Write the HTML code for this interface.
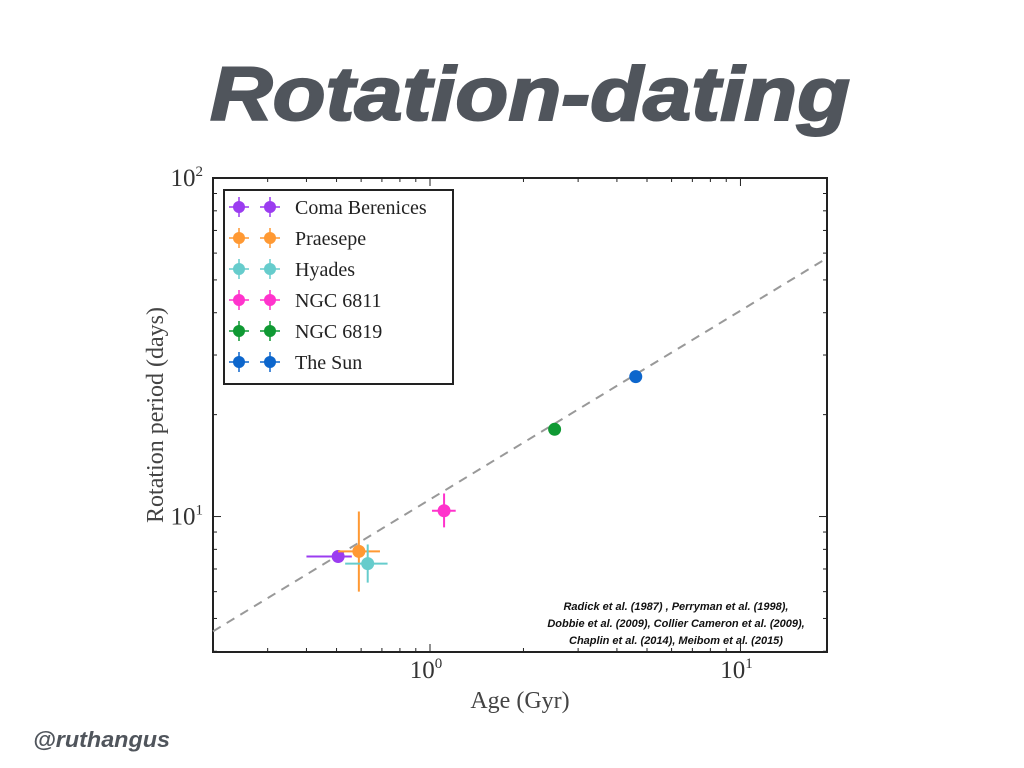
<!DOCTYPE html>
<html><head><meta charset="utf-8">
<style>
html,body{margin:0;padding:0;background:#fff;}
svg{display:block;}
</style></head>
<body>
<svg id="chart" width="1024" height="768" viewBox="0 0 1024 768" xmlns="http://www.w3.org/2000/svg">
<text x="530" y="120" text-anchor="middle" font-family="Liberation Sans, sans-serif" font-weight="bold" font-style="italic" font-size="76" fill="#50555c" stroke="#50555c" stroke-width="2" textLength="640" lengthAdjust="spacingAndGlyphs">Rotation-dating</text>
<text x="33" y="747" font-family="Liberation Sans, sans-serif" font-weight="bold" font-style="italic" font-size="22" fill="#50555c" textLength="137" lengthAdjust="spacingAndGlyphs">@ruthangus</text>
<g id="plot"></g>
</svg>
<script>
const names = ["Coma Berenices","Praesepe","Hyades","NGC 6811","NGC 6819","The Sun"];
const colors = ["#9b3cf0","#ff9933","#66cccc","#ff33cc","#0f9933","#0d66cc"];
const ages = [0.506, 0.59, 0.63, 1.11, 2.52, 4.6];
const ageLo = [0.40, 0.506, 0.533, 1.015, 2.52, 4.6];
const ageHi = [0.56, 0.69, 0.73, 1.21, 2.52, 4.6];
const periods = [7.62, 7.89, 7.26, 10.4, 18.1, 25.9];
const perLo = [7.62, 6.0, 6.38, 9.29, 18.1, 25.9];
const perHi = [7.62, 10.35, 8.27, 11.7, 18.1, 25.9];
const xMajor = [1, 10];
const xMajorLabels = ["0","1"];
const yMajor = [10, 100];
const yMajorLabels = ["1","2"];
const lineX = [0.2, 19];
const lineY = [4.58, 58.0];

const L=213,R=827,T=178,B=652;
const xmin=0.2,xmax=19.0,ymin=3.98,ymax=100;
const X=v=>L+(Math.log10(v)-Math.log10(xmin))/(Math.log10(xmax)-Math.log10(xmin))*(R-L);
const Y=v=>B-(Math.log10(v)-Math.log10(ymin))/(Math.log10(ymax)-Math.log10(ymin))*(B-T);
const NS="http://www.w3.org/2000/svg";
const g=document.getElementById('plot');
function mk(tag,attrs,parent){const e=document.createElementNS(NS,tag);for(const k in attrs)e.setAttribute(k,attrs[k]);(parent||g).appendChild(e);return e;}

let fr=mk('rect',{x:L,y:T,width:R-L,height:B-T,fill:'none',stroke:'#222','stroke-width':2});



for(let d=0.1;d<=10;d*=10){for(let m=1;m<10;m++){const v=d*m;if(v<xmin||v>xmax)continue;const x=X(v);const len=m===1?8:4;
mk('line',{x1:x,x2:x,y1:B,y2:B-len,stroke:'#222','stroke-width':1});mk('line',{x1:x,x2:x,y1:T,y2:T+len,stroke:'#222','stroke-width':1});}}
for(let d=1;d<=100;d*=10){for(let m=1;m<10;m++){const v=d*m;if(v<ymin||v>ymax)continue;const y=Y(v);const len=m===1?8:4;
mk('line',{x1:L,x2:L+len,y1:y,y2:y,stroke:'#222','stroke-width':1});mk('line',{x1:R,x2:R-len,y1:y,y2:y,stroke:'#222','stroke-width':1});}}

xMajor.forEach((v,i)=>{const t=mk('text',{x:X(v)-4,y:B+26,'text-anchor':'middle','font-family':'Liberation Serif, serif','font-size':25,fill:'#333'});


t.textContent='10';const s=mk('tspan',{dy:-10,'font-size':15},t);s.textContent=xMajorLabels[i];});
yMajor.forEach((v,i)=>{const t=mk('text',{x:L-10,y:Y(v)+8,'text-anchor':'end','font-family':'Liberation Serif, serif','font-size':25,fill:'#333'});


t.textContent='10';const s=mk('tspan',{dy:-10,'font-size':15},t);s.textContent=yMajorLabels[i];});

let xt=mk('text',{x:520,y:708,'text-anchor':'middle','font-family':'Liberation Serif, serif','font-size':24,fill:'#444'});


xt.textContent='Age (Gyr)';
let yt=mk('text',{x:0,y:0,transform:'translate(163,415) rotate(-90)','text-anchor':'middle','font-family':'Liberation Serif, serif','font-size':24,fill:'#444'});


yt.textContent='Rotation period (days)';

let fl=mk('line',{x1:X(lineX[0]),y1:Y(lineY[0]),x2:X(lineX[1]),y2:Y(lineY[1]),stroke:'#999','stroke-width':2,'stroke-dasharray':'9,7'});



ages.forEach((a,i)=>{const grp=mk('g',{});


mk('line',{x1:X(ageLo[i]),x2:X(ageHi[i]),y1:Y(periods[i]),y2:Y(periods[i]),stroke:colors[i],'stroke-width':2},grp);
mk('line',{x1:X(a),x2:X(a),y1:Y(perLo[i]),y2:Y(perHi[i]),stroke:colors[i],'stroke-width':2},grp);
mk('circle',{cx:X(a),cy:Y(periods[i]),r:6.5,fill:colors[i]},grp);});

let lb=mk('rect',{x:224,y:190,width:229,height:194,fill:'#fff',stroke:'#222','stroke-width':2});


names.forEach((n,i)=>{const y=207+i*31;const grp=mk('g',{});


[239,270].forEach(x=>{mk('line',{x1:x-10,x2:x+10,y1:y,y2:y,stroke:colors[i],'stroke-width':1.5},grp);
mk('line',{x1:x,x2:x,y1:y-10,y2:y+10,stroke:colors[i],'stroke-width':1.5},grp);
mk('circle',{cx:x,cy:y,r:6,fill:colors[i]},grp);});
const t=mk('text',{x:295,y:y+7,'font-family':'Liberation Serif, serif','font-size':20,fill:'#222'},grp);t.textContent=n;});

const cites=["Radick et al. (1987) , Perryman et al. (1998),","Dobbie et al. (2009), Collier Cameron et al. (2009),","Chaplin et al. (2014), Meibom et al. (2015)"];
cites.forEach((c,i)=>{const t=mk('text',{x:676,y:610+i*17,'text-anchor':'middle','font-family':'Liberation Sans, sans-serif','font-weight':'bold','font-style':'italic','font-size':11,fill:'#111'});


t.textContent=c;});
</script>
</body></html>
